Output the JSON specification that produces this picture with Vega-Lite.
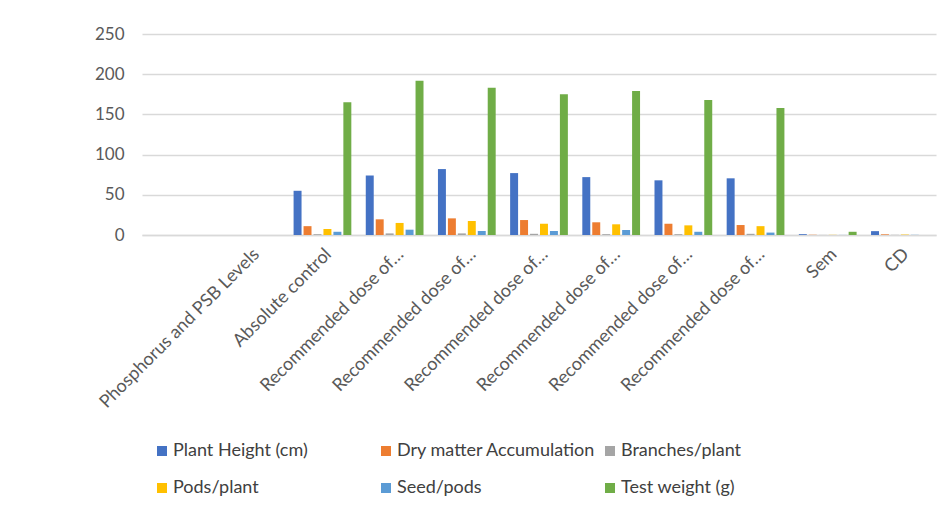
{
  "$schema": "https://vega.github.io/schema/vega-lite/v6.json",
  "width": 794,
  "height": 201,
  "autosize": {"type": "none"},
  "padding": {"left": 142, "top": 34, "right": 10, "bottom": 278},
  "background": "white",
  "config": {
    "view": {"stroke": null},
    "font": "Lato"
  },
  "data": {
    "values": [
      {"cat": "Absolute control", "series": "Plant Height (cm)", "value": 55},
      {"cat": "Absolute control", "series": "Dry matter Accumulation", "value": 11},
      {"cat": "Absolute control", "series": "Branches/plant", "value": 1},
      {"cat": "Absolute control", "series": "Pods/plant", "value": 7.5},
      {"cat": "Absolute control", "series": "Seed/pods", "value": 4},
      {"cat": "Absolute control", "series": "Test weight (g)", "value": 165},
      {"cat": "Recommended dose of P 1", "series": "Plant Height (cm)", "value": 74},
      {"cat": "Recommended dose of P 1", "series": "Dry matter Accumulation", "value": 19.5},
      {"cat": "Recommended dose of P 1", "series": "Branches/plant", "value": 2},
      {"cat": "Recommended dose of P 1", "series": "Pods/plant", "value": 15},
      {"cat": "Recommended dose of P 1", "series": "Seed/pods", "value": 6.6},
      {"cat": "Recommended dose of P 1", "series": "Test weight (g)", "value": 192},
      {"cat": "Recommended dose of P 2", "series": "Plant Height (cm)", "value": 82},
      {"cat": "Recommended dose of P 2", "series": "Dry matter Accumulation", "value": 20.7},
      {"cat": "Recommended dose of P 2", "series": "Branches/plant", "value": 2},
      {"cat": "Recommended dose of P 2", "series": "Pods/plant", "value": 17.4},
      {"cat": "Recommended dose of P 2", "series": "Seed/pods", "value": 5},
      {"cat": "Recommended dose of P 2", "series": "Test weight (g)", "value": 183},
      {"cat": "Recommended dose of P 3", "series": "Plant Height (cm)", "value": 77},
      {"cat": "Recommended dose of P 3", "series": "Dry matter Accumulation", "value": 18.6},
      {"cat": "Recommended dose of P 3", "series": "Branches/plant", "value": 1.5},
      {"cat": "Recommended dose of P 3", "series": "Pods/plant", "value": 14},
      {"cat": "Recommended dose of P 3", "series": "Seed/pods", "value": 5},
      {"cat": "Recommended dose of P 3", "series": "Test weight (g)", "value": 175},
      {"cat": "Recommended dose of P 4", "series": "Plant Height (cm)", "value": 72},
      {"cat": "Recommended dose of P 4", "series": "Dry matter Accumulation", "value": 15.8},
      {"cat": "Recommended dose of P 4", "series": "Branches/plant", "value": 1},
      {"cat": "Recommended dose of P 4", "series": "Pods/plant", "value": 13.3},
      {"cat": "Recommended dose of P 4", "series": "Seed/pods", "value": 6.2},
      {"cat": "Recommended dose of P 4", "series": "Test weight (g)", "value": 179},
      {"cat": "Recommended dose of P 5", "series": "Plant Height (cm)", "value": 68},
      {"cat": "Recommended dose of P 5", "series": "Dry matter Accumulation", "value": 14},
      {"cat": "Recommended dose of P 5", "series": "Branches/plant", "value": 1},
      {"cat": "Recommended dose of P 5", "series": "Pods/plant", "value": 12},
      {"cat": "Recommended dose of P 5", "series": "Seed/pods", "value": 4},
      {"cat": "Recommended dose of P 5", "series": "Test weight (g)", "value": 168},
      {"cat": "Recommended dose of P 6", "series": "Plant Height (cm)", "value": 70.5},
      {"cat": "Recommended dose of P 6", "series": "Dry matter Accumulation", "value": 12.4},
      {"cat": "Recommended dose of P 6", "series": "Branches/plant", "value": 1.5},
      {"cat": "Recommended dose of P 6", "series": "Pods/plant", "value": 11},
      {"cat": "Recommended dose of P 6", "series": "Seed/pods", "value": 3},
      {"cat": "Recommended dose of P 6", "series": "Test weight (g)", "value": 158},
      {"cat": "Sem", "series": "Plant Height (cm)", "value": 1},
      {"cat": "Sem", "series": "Dry matter Accumulation", "value": 0.3},
      {"cat": "Sem", "series": "Branches/plant", "value": 0.1},
      {"cat": "Sem", "series": "Pods/plant", "value": 0.2},
      {"cat": "Sem", "series": "Seed/pods", "value": 0.1},
      {"cat": "Sem", "series": "Test weight (g)", "value": 4},
      {"cat": "CD", "series": "Plant Height (cm)", "value": 4.8},
      {"cat": "CD", "series": "Dry matter Accumulation", "value": 0.8},
      {"cat": "CD", "series": "Branches/plant", "value": 0.2},
      {"cat": "CD", "series": "Pods/plant", "value": 0.5},
      {"cat": "CD", "series": "Seed/pods", "value": 0.2},
      {"cat": "CD", "series": "Test weight (g)", "value": 0}
    ]
  },
  "mark": {"type": "bar"},
  "encoding": {
    "x": {
      "field": "cat",
      "type": "nominal",
      "sort": null,
      "scale": {
        "domain": [" ", "Phosphorus and PSB Levels", "Absolute control", "Recommended dose of P 1", "Recommended dose of P 2", "Recommended dose of P 3", "Recommended dose of P 4", "Recommended dose of P 5", "Recommended dose of P 6", "Sem", "CD"],
        "paddingInner": 0.2,
        "paddingOuter": 0.1
      },
      "axis": {
        "title": null,
        "labelAngle": -45,
        "labelFontSize": 18,
        "labelColor": "#595959",
        "labelFont": "Lato",
        "labelPadding": 10,
        "labelLimit": 400,
        "ticks": false,
        "domainColor": "#d9d9d9",
        "domainWidth": 1.5,
        "labelExpr": "test(/^Recommended/, datum.label) ? 'Recommended dose of…' : datum.label"
      }
    },
    "xOffset": {
      "field": "series",
      "type": "nominal",
      "sort": ["Plant Height (cm)", "Dry matter Accumulation", "Branches/plant", "Pods/plant", "Seed/pods", "Test weight (g)"],
      "scale": {"paddingInner": 0.2, "paddingOuter": 0}
    },
    "y": {
      "field": "value",
      "type": "quantitative",
      "scale": {"domain": [0, 250], "nice": false},
      "axis": {
        "title": null,
        "values": [0, 50, 100, 150, 200, 250],
        "labelFontSize": 17,
        "labelColor": "#595959",
        "labelFont": "Lato",
        "labelPadding": 18,
        "ticks": false,
        "domain": false,
        "gridColor": "#d9d9d9",
        "gridWidth": 1.5
      }
    },
    "color": {
      "field": "series",
      "type": "nominal",
      "sort": ["Plant Height (cm)", "Dry matter Accumulation", "Branches/plant", "Pods/plant", "Seed/pods", "Test weight (g)"],
      "scale": {
        "domain": ["Plant Height (cm)", "Dry matter Accumulation", "Branches/plant", "Pods/plant", "Seed/pods", "Test weight (g)"],
        "range": ["#4472C4", "#ED7D31", "#A5A5A5", "#FFC000", "#5B9BD5", "#70AD47"]
      },
      "legend": {
        "title": null,
        "orient": "none",
        "legendX": 11,
        "legendY": 408,
        "direction": "horizontal",
        "columns": 3,
        "gridAlign": "all",
        "columnPadding": 5,
        "rowPadding": 19,
        "symbolType": "square",
        "symbolSize": 100,
        "symbolStrokeWidth": 0,
        "labelFontSize": 18,
        "labelFont": "Lato",
        "labelColor": "#404040",
        "labelOffset": 2,
        "labelLimit": 300
      }
    }
  }
}
